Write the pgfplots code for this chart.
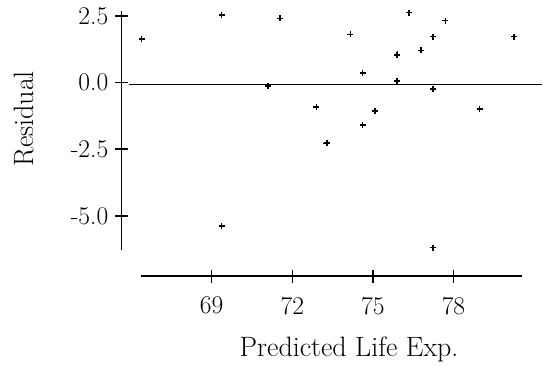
\documentclass[border=0pt]{standalone}
\usepackage{fontspec}
\usepackage{pgfplots}
\pgfplotsset{compat=1.18}
\begin{document}
\begin{tikzpicture}
\useasboundingbox (-141pt,-118pt) rectangle (407pt,250pt);
\begin{axis}[
  at={(0pt,0pt)}, anchor=south west,
  width=381pt, height=239pt, scale only axis,
  xmin=66.37, xmax=80.55, ymin=-6.28, ymax=2.68,
  axis lines=left,
  axis line style={-, line width=1.4pt},
  axis x line shift=26pt,
  axis y line shift=19.7pt,
  xtick={69,72,75,78},
  ytick={-5,-2.5,0,2.5},
  yticklabels={-5.0,-2.5,0.0,2.5},
  tick align=center,
  major tick length=13pt,
  tick style={line width=1.4pt, black},
  /pgf/number format/assume math mode=true,
  ticklabel style={font=\fontsize{25.5}{28}\selectfont},
  yticklabel style={xshift=-3pt},
  xticklabel style={yshift=-11pt},
  label style={font=\fontsize{28}{30}\selectfont},
  xlabel={Predicted Life Exp.},
  ylabel={Residual},
  xlabel style={at={(axis description cs:0.546,-0.415)}, anchor=center},
  ylabel style={at={(axis description cs:-0.307,0.548)}, anchor=center},
  clip=false,
]
\addplot[no marks, line width=1.4pt] coordinates {(65.91,-0.08) (81.30,-0.08)};
\addplot[only marks, mark=+, mark size=3pt, mark options={line width=1.6pt}] table {
x y
66.39 1.63
69.37 2.53
71.54 2.40
74.16 1.80
71.09 -0.15
71.10 -0.13
72.90 -0.915
73.27 -2.28
73.29 -2.26
69.37 -5.38
76.35 2.62
77.70 2.32
77.23 1.72
80.25 1.72
75.90 1.03
75.91 1.05
76.78 1.20
74.62 0.36
75.90 0.06
77.23 -0.24
75.07 -1.06
74.62 -1.60
78.97 -0.99
77.23 -6.19
};
\end{axis}
\end{tikzpicture}
\end{document}
